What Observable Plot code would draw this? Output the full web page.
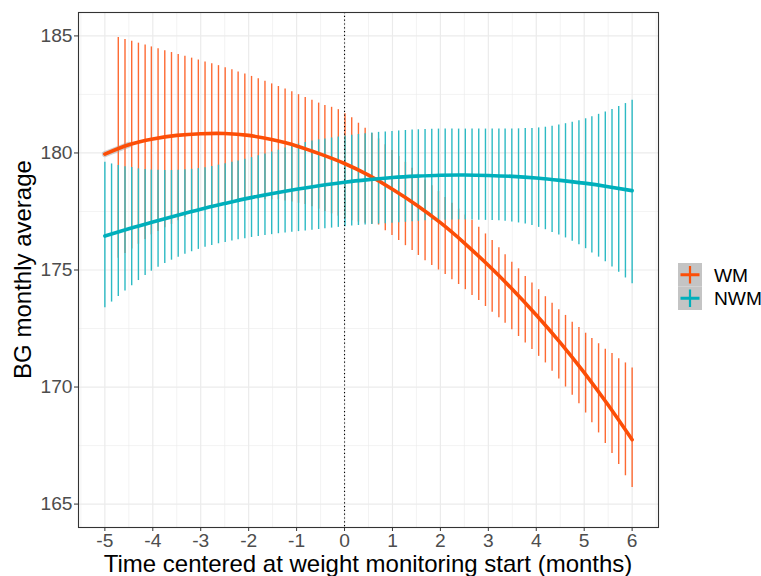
<!DOCTYPE html>
<html>
<head>
<meta charset="utf-8">
<script src="https://cdn.jsdelivr.net/npm/d3@7"></script>
<script src="https://cdn.jsdelivr.net/npm/@observablehq/plot@0.6"></script>
<style>
  html, body { margin: 0; padding: 0; background: white; }
  #chart { position: relative; width: 761px; height: 576px; }
</style>
</head>
<body>
<div id="chart"></div>
<script>
// ---- data ----
const months = [-5.00,-4.86,-4.72,-4.58,-4.44,-4.30,-4.16,-4.03,-3.89,-3.75,-3.61,-3.47,-3.33,-3.19,-3.05,-2.91,-2.77,-2.63,-2.49,-2.35,
  -2.22,-2.08,-1.94,-1.80,-1.66,-1.52,-1.38,-1.24,-1.10,-0.96,-0.82,-0.68,-0.54,-0.41,-0.27,-0.13,0.01,0.15,0.29,0.43,
  0.57,0.71,0.85,0.99,1.13,1.27,1.41,1.54,1.68,1.82,1.96,2.10,2.24,2.38,2.52,2.66,2.80,2.94,3.08,3.22,
  3.35,3.49,3.63,3.77,3.91,4.05,4.19,4.33,4.47,4.61,4.75,4.89,5.03,5.16,5.30,5.44,5.58,5.72,5.86,6.00];

// WM error bars (first two fall outside the y limits and are dropped)
const wmHigh = [null,null,184.93,184.85,184.77,184.69,184.61,184.53,184.45,184.37,184.29,184.21,184.13,184.05,183.97,183.89,183.81,183.73,183.64,183.55,
  183.46,183.37,183.27,183.17,183.06,182.95,182.84,182.73,182.61,182.49,182.37,182.25,182.13,182.03,181.95,181.85,181.68,181.5,181.27,181.06,
  180.83,180.6,180.35,180.1,179.85,179.6,179.35,179.1,178.85,178.6,178.35,178.1,177.85,177.6,177.35,177.12,176.83,176.54,176.26,175.95,
  175.65,175.33,175.05,174.72,174.44,174.16,173.86,173.58,173.30,173.06,172.77,172.54,172.30,172.07,171.85,171.61,171.43,171.21,171.03,170.81];
const wmLow = [null,null,175.5,175.7,175.9,176.1,176.3,176.5,176.65,176.8,176.95,177.1,177.25,177.4,177.5,177.6,177.7,177.8,177.85,177.9,
  177.95,178.0,178.0,178.0,178.0,178.0,178.0,177.95,177.9,177.85,177.8,177.7,177.6,177.5,177.4,177.3,177.2,177.1,177.05,177.0,
  176.95,176.92,176.68,176.47,176.26,176.04,175.83,175.62,175.4,175.19,175.0,174.81,174.58,174.38,174.16,173.91,173.7,173.44,173.2,172.96,
  172.73,172.45,172.16,171.88,171.6,171.31,171.03,170.68,170.34,170.0,169.65,169.29,168.89,168.47,168.04,167.59,167.16,166.69,166.21,165.71];

// NWM error bars
const nwmHigh = [179.6,179.53,179.46,179.41,179.38,179.32,179.29,179.27,179.26,179.25,179.25,179.26,179.28,179.3,179.33,179.37,179.42,179.48,179.54,179.6,
  179.66,179.73,179.8,179.88,179.96,180.04,180.12,180.21,180.3,180.38,180.45,180.51,180.56,180.6,180.64,180.68,180.72,180.76,180.79,180.82,
  180.85,180.88,180.9,180.92,180.94,180.96,180.98,180.99,181.0,181.01,181.02,181.02,181.02,181.02,181.02,181.02,181.02,181.02,181.02,181.02,
  181.02,181.02,181.03,181.04,181.05,181.07,181.1,181.14,181.19,181.25,181.31,181.38,181.46,181.55,181.65,181.75,181.86,181.98,182.11,182.25];
const nwmLow = [173.39,173.63,173.87,174.1,174.33,174.55,174.76,174.95,175.12,175.28,175.42,175.55,175.67,175.78,175.88,175.97,176.05,176.12,176.18,176.24,
  176.29,176.34,176.39,176.43,176.47,176.51,176.55,176.58,176.61,176.64,176.67,176.7,176.73,176.76,176.79,176.82,176.85,176.88,176.9,176.92,
  176.94,176.96,176.98,177.0,177.02,177.04,177.06,177.08,177.1,177.11,177.12,177.13,177.14,177.14,177.14,177.14,177.13,177.12,177.11,177.1,
  177.08,177.05,177.01,176.96,176.9,176.82,176.72,176.6,176.49,176.37,176.23,176.08,175.91,175.73,175.55,175.35,175.13,174.9,174.66,174.41];

// fitted curves
const curveX = [-5,-4.5,-4,-3.5,-3,-2.5,-2,-1.5,-1,-0.5,0,0.5,1,1.5,2,2.5,3,3.5,4,4.5,5,5.5,6];
const wmCurve = [179.95,180.35,180.6,180.75,180.82,180.83,180.75,180.56,180.3,179.95,179.55,179.05,178.45,177.78,177.02,176.15,175.2,174.18,173.08,171.9,170.62,169.23,167.75];
const nwmCurve = [176.45,176.76,177.05,177.33,177.6,177.84,178.07,178.27,178.45,178.61,178.75,178.86,178.95,179.01,179.05,179.06,179.04,179.0,178.93,178.83,178.71,178.56,178.39];

const groups = ["WM", "NWM"];
const colors = ["#FC4E07", "#00AFBB"];
const barColors = ["#FD6A33", "#2DBAC4"];

const xTicks = [-5,-4,-3,-2,-1,0,1,2,3,4,5,6];
const xMinor = [-5.5,-4.5,-3.5,-2.5,-1.5,-0.5,0.5,1.5,2.5,3.5,4.5,5.5,6.5];
const yTicks = [165,170,175,180,185];
const yMinor = [167.5,172.5,177.5,182.5];

// ---- tables ----
const wmBars = months.map((x, i) => ({x, lo: wmLow[i], hi: wmHigh[i]})).filter(d => d.hi != null);
const nwmBars = months.map((x, i) => ({x, lo: nwmLow[i], hi: nwmHigh[i]}));
const wmLine = curveX.map((x, i) => ({x, y: wmCurve[i]}));
const nwmLine = curveX.map((x, i) => ({x, y: nwmCurve[i]}));

const font = "'Liberation Sans', Arial, Helvetica, sans-serif";

const svg = Plot.plot({
  width: 761,
  height: 576,
  marginLeft: 78,
  marginRight: 103,
  marginTop: 12,
  marginBottom: 49,
  style: {fontFamily: font, background: "white", overflow: "visible"},
  x: {domain: [-5.55, 6.55]},
  y: {domain: [164, 186]},
  marks: [
    Plot.gridX(xMinor, {stroke: "#EBEBEB", strokeOpacity: 1, strokeWidth: 0.6}),
    Plot.gridY(yMinor, {stroke: "#EBEBEB", strokeOpacity: 1, strokeWidth: 0.6}),
    Plot.gridX(xTicks, {stroke: "#EBEBEB", strokeOpacity: 1, strokeWidth: 1.2}),
    Plot.gridY(yTicks, {stroke: "#EBEBEB", strokeOpacity: 1, strokeWidth: 1.2}),
    Plot.ruleX(wmBars, {x: "x", y1: "lo", y2: "hi", stroke: barColors[0], strokeWidth: 1.4}),
    Plot.ruleX(nwmBars, {x: "x", y1: "lo", y2: "hi", stroke: barColors[1], strokeWidth: 1.4}),
    Plot.ruleX([0], {stroke: "#000", strokeWidth: 1.1, strokeDasharray: "1.2,2.6"}),
    Plot.line(wmLine.filter(d => d.x <= -4.5), {x: "x", y: "y", stroke: "#999", strokeWidth: 6, strokeOpacity: 0.45, curve: "natural"}),
    Plot.line(wmLine, {x: "x", y: "y", stroke: colors[0], strokeWidth: 3.6, curve: "natural"}),
    Plot.line(nwmLine, {x: "x", y: "y", stroke: colors[1], strokeWidth: 3.6, curve: "natural"}),
    Plot.frame({stroke: "#333333", strokeWidth: 1.1}),
    Plot.axisX(xTicks, {tickSize: 4, tickPadding: 2, fontSize: 19.2, fill: "#4D4D4D", stroke: "#333333", tickFormat: d => String(d), label: null}),
    Plot.axisY(yTicks, {tickSize: 4, tickPadding: 2, fontSize: 19.2, fill: "#4D4D4D", stroke: "#333333", tickFormat: d => String(d), label: null})
  ]
});

const root = d3.select(svg);
// axis titles
root.append("text")
  .attr("x", 368).attr("y", 572)
  .attr("text-anchor", "middle")
  .attr("font-family", font).attr("font-size", 24).attr("fill", "#000")
  .text("Time centered at weight monitoring start (months)");
root.append("text")
  .attr("transform", "translate(30.5,269.5) rotate(-90)")
  .attr("text-anchor", "middle")
  .attr("font-family", font).attr("font-size", 24).attr("fill", "#000")
  .text("BG monthly average");

// legend
const leg = root.append("g").attr("transform", "translate(678,263)");
groups.forEach((g, i) => {
  const k = leg.append("g").attr("transform", `translate(0,${i * 23.5})`);
  k.append("rect").attr("width", 24).attr("height", 23.5).attr("fill", "#C4C4C4");
  k.append("line").attr("x1", 2.5).attr("x2", 21.5).attr("y1", 11.75).attr("y2", 11.75)
    .attr("stroke", colors[i]).attr("stroke-width", 3);
  k.append("line").attr("x1", 12).attr("x2", 12).attr("y1", 3).attr("y2", 20.5)
    .attr("stroke", colors[i]).attr("stroke-width", 2.2);
  k.append("text").attr("x", 36).attr("y", 11.75).attr("dy", "0.36em")
    .attr("text-anchor", "start")
    .attr("font-family", font).attr("font-size", 19.2).attr("fill", "#000")
    .text(g);
});

document.getElementById("chart").appendChild(svg);
</script>
</body>
</html>
